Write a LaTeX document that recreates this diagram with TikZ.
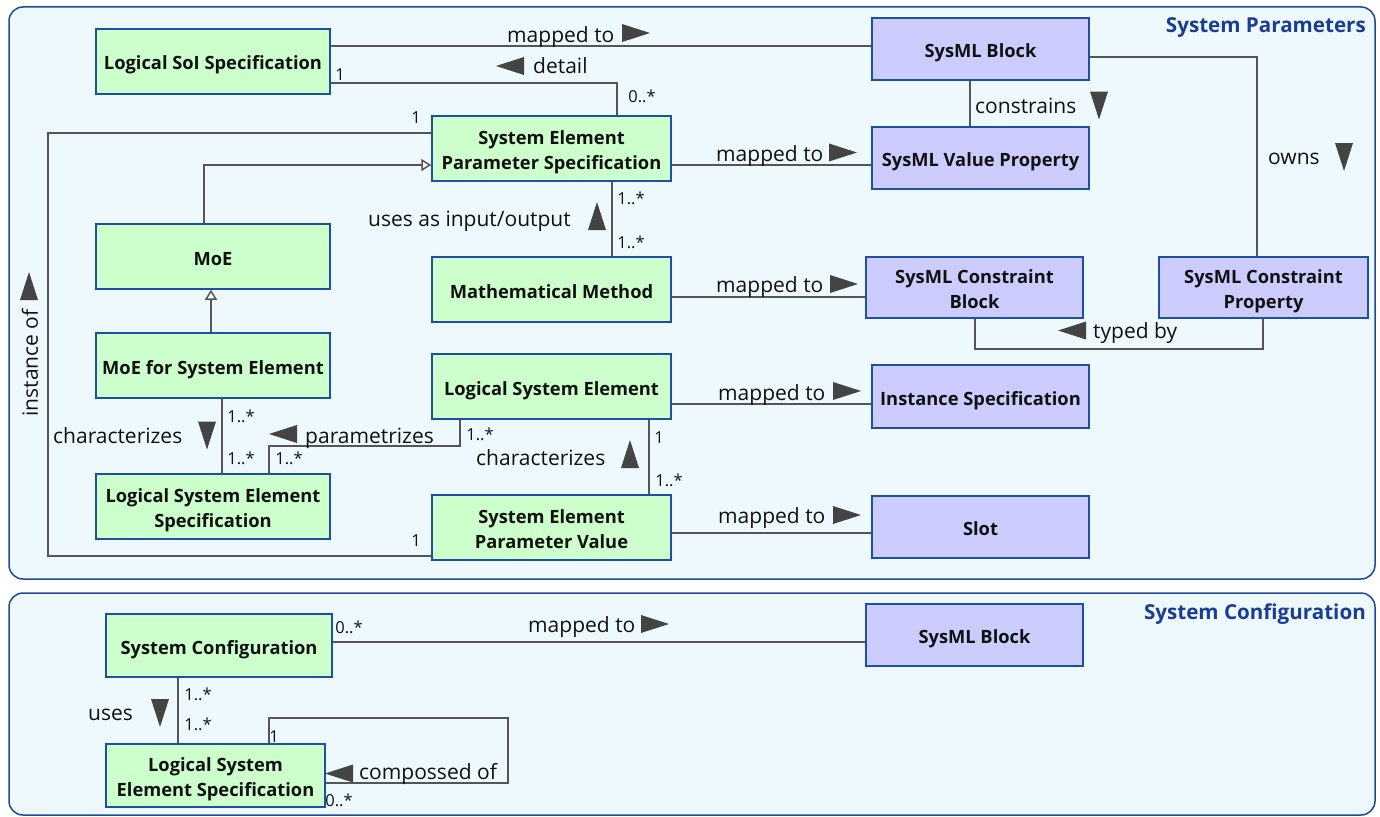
\documentclass[tikz,border=0pt]{standalone}
\usepackage{fontspec}
\setmainfont{Open Sans}
\usetikzlibrary{arrows.meta}
\definecolor{framefill}{HTML}{EEF9FE}
\definecolor{framedraw}{HTML}{1E4A9C}
\definecolor{titlecol}{HTML}{1A3C94}
\definecolor{greenfill}{HTML}{CCFFCC}
\definecolor{bluefill}{HTML}{CCCCFF}
\definecolor{boxdraw}{HTML}{1F4FA3}
\definecolor{linecol}{HTML}{555555}
\definecolor{tricol}{HTML}{444444}
\definecolor{txtcol}{HTML}{111111}
\newcommand{\topstrut}{\rule{0pt}{23pt}}
\begin{document}
\begin{tikzpicture}[x=1pt,y=-1pt,
  frame/.style={draw=framedraw,fill=framefill,line width=1.5pt,rounded corners=14pt},
  title/.style={font=\bfseries\fontsize{20.6}{20.6}\selectfont,text=titlecol,anchor=east,inner sep=0},
  box/.style={draw=boxdraw,line width=1.5pt,align=center,inner sep=0,
    font=\bfseries\fontsize{18.3}{25.5}\selectfont,text=txtcol,
    execute at begin node={\rule{0pt}{23pt}},
    execute at end node={\rule[-6pt]{0pt}{6pt}}},
  two/.style={execute at begin node={},execute at end node={}},
  gbox/.style={box,fill=greenfill},
  bbox/.style={box,fill=bluefill},
  conn/.style={draw=linecol,line width=1.5pt},
  gen/.style={conn,-{Triangle[open,length=10pt,width=12pt,fill=white]}},
  lbl/.style={font=\fontsize{21}{21}\selectfont,text=txtcol,anchor=base west,inner sep=0},
  mult/.style={font=\fontsize{16.5}{16.5}\selectfont,text=txtcol,inner sep=0},
  triR/.pic={\fill[tricol] (-14,-9) -- (14,0) -- (-14,9) -- cycle;},
  triL/.pic={\fill[tricol] (14,-9) -- (-14,0) -- (14,9) -- cycle;},
  triU/.pic={\fill[tricol] (-9,14) -- (0,-14) -- (9,14) -- cycle;},
  triD/.pic={\fill[tricol] (-9,-14) -- (0,14) -- (9,-14) -- cycle;},
]
\useasboundingbox (0,0) rectangle (1380,816);

% package frames
\draw[frame] (9,7) rectangle (1375,579);
\draw[frame] (9,593) rectangle (1375,815);
\node[title] (tpar) at (1366,28) {System Parameters};
\node[title] (tconf) at (1366,614) {System Configuration};

% ---- System Parameters: logical elements
\node[gbox,minimum width=234pt,minimum height=65pt] (soi) at (213,61.5) {Logical SoI Specification};
\node[gbox,two,minimum width=239pt,minimum height=65pt] (seps) at (551.5,148.5) {\topstrut System Element\\Parameter Specification};
\node[gbox,minimum width=234pt,minimum height=65pt] (moe) at (213,256.5) {MoE};
\node[gbox,minimum width=234pt,minimum height=65pt] (moese) at (213,365.5) {MoE for System Element};
\node[gbox,two,minimum width=234pt,minimum height=65pt] (lses) at (213,506.5) {\topstrut Logical System Element\\Specification};
\node[gbox,minimum width=239pt,minimum height=65pt] (mm) at (551.5,289.5) {Mathematical Method};
\node[gbox,minimum width=239pt,minimum height=65pt] (lse) at (551.5,386.5) {Logical System Element};
\node[gbox,two,minimum width=239pt,minimum height=65pt] (sepv) at (551.5,527.5) {\topstrut System Element\\Parameter Value};

% ---- System Parameters: SysML elements
\node[bbox,minimum width=217pt,minimum height=62pt] (sb) at (980.5,49) {SysML Block};
\node[bbox,minimum width=217pt,minimum height=62pt] (svp) at (980.5,158) {SysML Value Property};
\node[bbox,two,minimum width=217pt,minimum height=61pt] (scb) at (974.5,287.5) {\topstrut SysML Constraint\\Block};
\node[bbox,two,minimum width=209pt,minimum height=61pt] (scp) at (1263.5,287.5) {\topstrut SysML Constraint\\Property};
\node[bbox,minimum width=217pt,minimum height=63pt] (is) at (980.5,396.5) {Instance Specification};
\node[bbox,minimum width=217pt,minimum height=62pt] (slot) at (980.5,527) {Slot};

% ---- System Configuration
\node[gbox,minimum width=226pt,minimum height=63pt] (sc) at (219,645.5) {System Configuration};
\node[gbox,two,minimum width=219pt,minimum height=63pt] (lses2) at (215.5,775.5) {\topstrut Logical System\\Element Specification};
\node[bbox,minimum width=217pt,minimum height=62pt] (sb2) at (974.5,635) {SysML Block};

% ---- connectors
\draw[conn] (soi.east|-0,46) -- (sb.west|-0,46);
\draw[conn] (soi.east|-0,83) -| (617,0|-seps.north);
\draw[conn] (970,0|-sb.south) -- (970,0|-svp.north);
\draw[conn] (sb.east|-0,57) -| (1257,0|-scp.north);
\draw[conn] (seps.east|-0,165) -- (svp.west|-0,165);
\draw[conn] (612,0|-seps.south) -- (612,0|-mm.north);
\draw[conn] (mm.east|-0,297) -- (scb.west|-0,297);
\draw[conn] (975,0|-scb.south) -- (975,349) -- (1263,349) -- (1263,0|-scp.south);
\draw[gen] (204,0|-moe.north) |- (seps.west|-0,165);
\draw[gen] (211,0|-moese.north) -- (211,0|-moe.south);
\draw[conn] (seps.west|-0,133) -| (48,556) -- (sepv.west|-0,556);
\draw[conn] (222,0|-moese.south) -- (222,0|-lses.north);
\draw[conn] (460,0|-lse.south) |- (269,446) -- (269,0|-lses.north);
\draw[conn] (649,0|-lse.south) -- (649,0|-sepv.north);
\draw[conn] (lse.east|-0,404) -- (is.west|-0,404);
\draw[conn] (sepv.east|-0,533) -- (slot.west|-0,533);
\draw[conn] (sc.east|-0,642) -- (sb2.west|-0,642);
\draw[conn] (178,0|-sc.south) -- (178,0|-lses2.north);
\draw[conn] (269,0|-lses2.north) -- (269,718) -- (508,718) -- (508,783) -- (lses2.east|-0,783);

% ---- association names
\node[lbl] (n1) at (507,42) {mapped to};
\pic (d1) at (636,33) {triR};
\node[lbl] (n2) at (533,74) {detail};
\pic (d2) at (510,66) {triL};
\node[lbl] (n3) at (975,113) {constrains};
\pic (d3) at (1099,105.5) {triD};
\node[lbl] (n4) at (1268,164) {owns};
\pic (d4) at (1344,157) {triD};
\node[lbl] (n5) at (716,161) {mapped to};
\pic (d5) at (843,152.5) {triR};
\node[lbl] (n6) at (368,226.5) {uses as input/output};
\pic (d6) at (597,216) {triU};
\node[lbl] (n7) at (716,292) {mapped to};
\pic (d7) at (844,284) {triR};
\node[lbl] (n8) at (1093,338) {typed by};
\pic (d8) at (1072,330.5) {triL};
\node[font=\fontsize{21}{21}\selectfont,text=txtcol,inner sep=0,rotate=90] (n9) at (30,363) {instance of};
\pic (d9) at (29,286) {triU};
\node[lbl] (n10) at (53,443) {characterizes};
\pic (d10) at (207,435.5) {triD};
\node[lbl] (n11) at (305,443) {parametrizes};
\pic (d11) at (283,434) {triL};
\node[lbl] (n12) at (476,465) {characterizes};
\pic (d12) at (630,454) {triU};
\node[lbl] (n13) at (718,400) {mapped to};
\pic (d13) at (847,391) {triR};
\node[lbl] (n14) at (718,523) {mapped to};
\pic (d14) at (847,515) {triR};
\node[lbl] (n15) at (528,632) {mapped to};
\pic (d15) at (655,624) {triR};
\node[lbl] (n16) at (88,720) {uses};
\pic (d16) at (160,713) {triD};
\node[lbl] (n17) at (359,779) {compossed of};
\pic (d17) at (339,773.5) {triL};

% ---- multiplicities
\node[mult] (m1) at (340,75) {1};
\node[mult] (m2) at (642,96) {0..*};
\node[mult] (m3) at (416,118) {1};
\node[mult] (m4) at (631,198) {1..*};
\node[mult] (m5) at (631,242) {1..*};
\node[mult] (m6) at (241,416) {1..*};
\node[mult] (m7) at (241,458) {1..*};
\node[mult] (m8) at (289,458) {1..*};
\node[mult] (m9) at (480,434) {1..*};
\node[mult] (m10) at (659,438) {1};
\node[mult] (m11) at (669,480) {1..*};
\node[mult] (m12) at (416,541) {1};
\node[mult] (m13) at (349,627) {0..*};
\node[mult] (m14) at (198,694) {1..*};
\node[mult] (m15) at (198,724) {1..*};
\node[mult] (m16) at (274,737) {1};
\node[mult] (m17) at (339,800) {0..*};
\end{tikzpicture}
\end{document}
